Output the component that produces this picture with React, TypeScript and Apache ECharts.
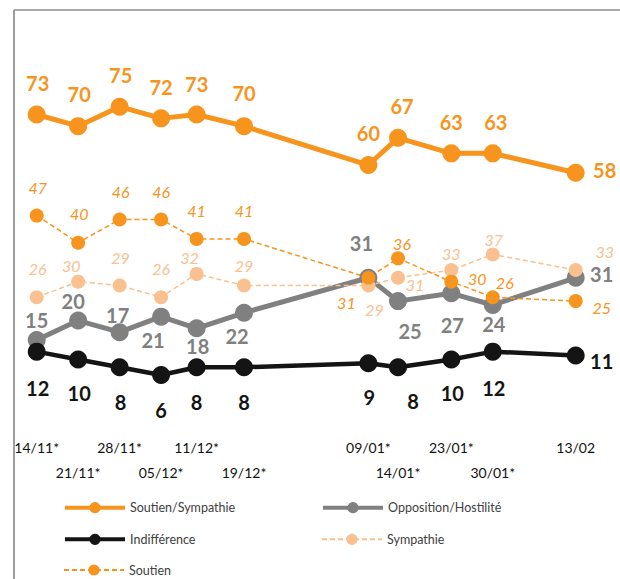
import React, { useEffect, useRef } from "react";
import * as echarts from "echarts";

// ---- data ----
const dateLabels = ["14/11*", "21/11*", "28/11*", "05/12*", "11/12*", "19/12*", "09/01*", "14/01*", "23/01*", "30/01*", "13/02"];
const dayOffsets = [0, 7, 14, 21, 27, 35, 56, 61, 70, 77, 91];
const soutienSympathie = [73, 70, 75, 72, 73, 70, 60, 67, 63, 63, 58];
const opposition = [15, 20, 17, 21, 18, 22, 31, 25, 27, 24, 31];
const indifference = [12, 10, 8, 6, 8, 8, 9, 8, 10, 12, 11];
const sympathie = [26, 30, 29, 26, 32, 29, 29, 31, 33, 37, 33];
const soutien = [47, 40, 46, 46, 41, 41, 31, 36, 30, 26, 25];

// ---- label placement (offset of label centre from point) ----
const ssOffsets = [[1, -31], [1, -32], [1, -32], [0, -31], [0, -30], [0, -33], [0, -32], [4, -32], [0, -31], [3, -31], [29, -3]];
const oppOffsets = [[0, -20], [-5, -20], [-2, -17], [-8, 23], [1, 18], [-7, 23], [-7, -35], [12, 30], [1, 32], [1, 19], [26, -4]];
const indOffsets = [[1, 36], [1, 34], [1, 35], [0, 35], [0, 35], [0, 35], [1, 34], [15, 34], [1, 34], [1, 36], [26, 5]];
const soutienOffsets = [[1, -28], [1, -29], [1, -28], [0, -28], [0, -28], [0, -28], [-22, 25], [4, -15], [26, -3], [12, -15], [26, 6]];
const sympOffsets = [[1, -29], [-7, -16], [1, -28], [0, -29], [-7, -16], [0, -20], [6, 24], [17, 7], [0, -16], [1, -15], [29, -18]];

const FONT = "Lato, 'Open Sans', sans-serif";
const ORANGE = "#F7941D";
const LIGHT = "#FAC090";
const GRAY = "#808080";
const BLACK = "#141414";

export default function App() {
  const ref = useRef<HTMLDivElement>(null);
  useEffect(() => {
    document.body.style.margin = "0";
    const chart = echarts.init(ref.current!, null, { renderer: "svg" });

    const mk = (vals: number[], offs: number[][]) =>
      vals.map((v, i) => ({ value: [dayOffsets[i], v], label: { offset: offs[i] } }));

    const lbl = (color: string, size: number, italic: boolean) => ({
      show: true,
      position: "inside",
      color,
      fontFamily: FONT,
      fontSize: size,
      fontWeight: italic ? "normal" : "bold",
      fontStyle: italic ? "italic" : "normal",
      textBorderWidth: 0,
      formatter: (p: any) => String(p.value[1]),
    });

    const legendBase = {
      padding: 0,
      itemWidth: 60,
      itemHeight: 14,
      selectedMode: false,
      textStyle: { fontFamily: FONT, fontSize: 12.5, color: "#404040", lineHeight: 14 },
    };
    const solidLegend = { lineStyle: { width: 4 } };

    const xAxisFor = (parity: number, margin: number) => ({
      type: "value",
      min: 0,
      max: 91,
      position: "bottom",
      axisLine: { show: false },
      axisTick: { show: false },
      splitLine: { show: false },
      axisLabel: {
        customValues: dayOffsets.filter((_, i) => i % 2 === parity),
        showMinLabel: true,
        showMaxLabel: true,
        hideOverlap: false,
        margin,
        fontFamily: FONT,
        fontSize: 14,
        color: "#111111",
        formatter: (v: number) => {
          const i = dayOffsets.indexOf(v);
          return i < 0 ? "" : dateLabels[i];
        },
      },
    });

    chart.setOption({
      animation: false,
      backgroundColor: "#ffffff",
      grid: { left: 36.7, right: 44.3, top: 9.5, bottom: 180.7, containLabel: false, outerBoundsMode: "none" },
      xAxis: [xAxisFor(0, 42), xAxisFor(1, 67)],
      yAxis: { type: "value", min: 0, max: 100, show: false },
      legend: [
        { ...legendBase, ...solidLegend, data: ["Soutien/Sympathie"], left: 63, top: 500.7 },
        { ...legendBase, ...solidLegend, data: ["Opposition/Hostilité"], left: 321, top: 500.7 },
        { ...legendBase, ...solidLegend, data: ["Indifférence"], left: 63, top: 532.3 },
        { ...legendBase, data: ["Sympathie"], left: 321, top: 532.3 },
        { ...legendBase, data: ["Soutien"], left: 63, top: 563 },
      ],
      graphic: [
        { type: "line", shape: { x1: 14, y1: 10, x2: 620, y2: 10 }, style: { stroke: "#8c8c8c", lineWidth: 1.7 } },
        { type: "line", shape: { x1: 14, y1: 10, x2: 14, y2: 579 }, style: { stroke: "#8c8c8c", lineWidth: 1.7 } },
      ],
      series: [
        {
          name: "Soutien/Sympathie",
          type: "line",
          data: mk(soutienSympathie, ssOffsets),
          symbol: "circle",
          symbolSize: 18,
          itemStyle: { color: ORANGE },
          lineStyle: { color: ORANGE, width: 5 },
          label: lbl(ORANGE, 20, false),
          emphasis: { disabled: true },
        },
        {
          name: "Opposition/Hostilité",
          type: "line",
          data: mk(opposition, oppOffsets),
          symbol: "circle",
          symbolSize: 18,
          itemStyle: { color: GRAY },
          lineStyle: { color: GRAY, width: 5 },
          label: lbl(GRAY, 20, false),
          emphasis: { disabled: true },
        },
        {
          name: "Indifférence",
          type: "line",
          data: mk(indifference, indOffsets),
          symbol: "circle",
          symbolSize: 18,
          itemStyle: { color: BLACK },
          lineStyle: { color: BLACK, width: 4.5 },
          label: lbl(BLACK, 20, false),
          emphasis: { disabled: true },
        },
        {
          name: "Sympathie",
          type: "line",
          data: mk(sympathie, sympOffsets),
          symbol: "circle",
          symbolSize: 14,
          itemStyle: { color: LIGHT },
          lineStyle: { color: LIGHT, width: 1.5, type: [5, 3] },
          label: lbl(LIGHT, 16, true),
          emphasis: { disabled: true },
        },
        {
          name: "Soutien",
          type: "line",
          data: mk(soutien, soutienOffsets),
          symbol: "circle",
          symbolSize: 14,
          itemStyle: { color: ORANGE },
          lineStyle: { color: ORANGE, width: 1.5, type: [5, 3] },
          label: lbl(ORANGE, 16, true),
          emphasis: { disabled: true },
        },
      ],
    });
    return () => chart.dispose();
  }, []);
  return <div ref={ref} style={{ width: 620, height: 579 }} />;
}
